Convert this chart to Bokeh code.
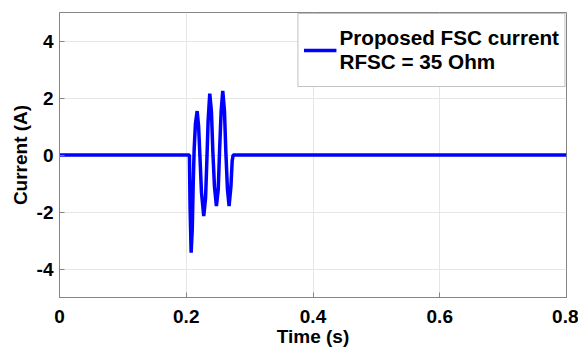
from bokeh.plotting import figure
from bokeh.models import Range1d, Legend, LegendItem, FixedTicker
from bokeh.embed import file_html
from bokeh.resources import INLINE

# Data
time_s = [0.0, 0.2050, 0.2060, 0.2077, 0.2095, 0.2110, 0.2125, 0.2145, 0.2172,
          0.2195, 0.2215, 0.2240, 0.2276, 0.2305, 0.2325, 0.2345, 0.2371,
          0.2398, 0.2420, 0.2445, 0.2476, 0.2505, 0.2525, 0.2550, 0.2576,
          0.2603, 0.2625, 0.2650, 0.2676, 0.2705, 0.2725, 0.2740, 0.8]
current_a = [0.0, 0.0, -1.8, -3.43, -2.6, -1.0, 0.2, 1.1, 1.54,
             1.0, 0.0, -1.3, -2.14, -1.5, -0.2, 1.2, 2.15,
             1.5, 0.1, -1.1, -1.79, -1.2, 0.1, 1.5, 2.25,
             1.55, 0.1, -1.2, -1.79, -1.1, -0.2, 0.0, 0.0]
x_ticks = [0, 0.2, 0.4, 0.6, 0.8]
x_tick_labels = ["0", "0.2", "0.4", "0.6", "0.8"]
y_ticks = [-4, -2, 0, 2, 4]
y_tick_labels = ["-4", "-2", "0", "2", "4"]
legend_label = "Proposed FSC current\nRFSC = 35 Ohm"

FONT = "Liberation Sans"
GRAY = "#858585"

p = figure(width=578, height=349, output_backend="svg", toolbar_location=None,
           x_range=Range1d(0, 0.8), y_range=Range1d(-5, 5),
           frame_width=507, frame_height=285,
           min_border_left=59, min_border_right=12, min_border_top=12, min_border_bottom=52)

r = p.line(time_s, current_a, line_color="#0000ff", line_width=3.5)

for ax in (p.xaxis, p.yaxis):
    ax.major_label_text_font = FONT
    ax.major_label_text_font_style = "bold"
    ax.major_label_text_font_size = "19px"
    ax.major_label_text_color = "black"
    ax.axis_label_text_font = FONT
    ax.axis_label_text_font_style = "bold"
    ax.axis_label_text_font_size = "19px"
    ax.axis_label_text_color = "black"
    ax.axis_line_color = GRAY
    ax.major_tick_line_color = GRAY
    ax.major_tick_in = 5
    ax.major_tick_out = 0
    ax.minor_tick_line_color = None

p.xaxis.ticker = FixedTicker(ticks=x_ticks)
p.yaxis.ticker = FixedTicker(ticks=y_ticks)
p.xaxis.major_label_overrides = dict(zip(x_ticks, x_tick_labels))
p.yaxis.major_label_overrides = dict(zip(y_ticks, y_tick_labels))
p.xaxis.axis_label = "Time (s)"
p.yaxis.axis_label = "Current (A)"
p.xaxis.major_label_standoff = 12
p.yaxis.major_label_standoff = 6
p.xaxis.axis_label_standoff = 0
p.yaxis.axis_label_standoff = 3
p.xgrid.ticker = FixedTicker(ticks=x_ticks)
p.ygrid.ticker = FixedTicker(ticks=y_ticks)
p.grid.grid_line_color = "#e6e6e6"
p.outline_line_color = GRAY
p.outline_line_alpha = 1

legend = Legend(items=[LegendItem(label=legend_label, renderers=[r])],
                location="top_right")
legend.label_text_font = FONT
legend.label_text_font_style = "bold"
legend.label_text_font_size = "20.7px"
legend.label_text_color = "black"
legend.border_line_color = GRAY
legend.border_line_width = 1
legend.background_fill_alpha = 1
legend.glyph_width = 33
legend.glyph_height = 62
legend.margin = 1
legend.padding = 5
legend.label_standoff = 3
p.add_layout(legend)

open("out.html", "w").write(file_html(p, INLINE))
